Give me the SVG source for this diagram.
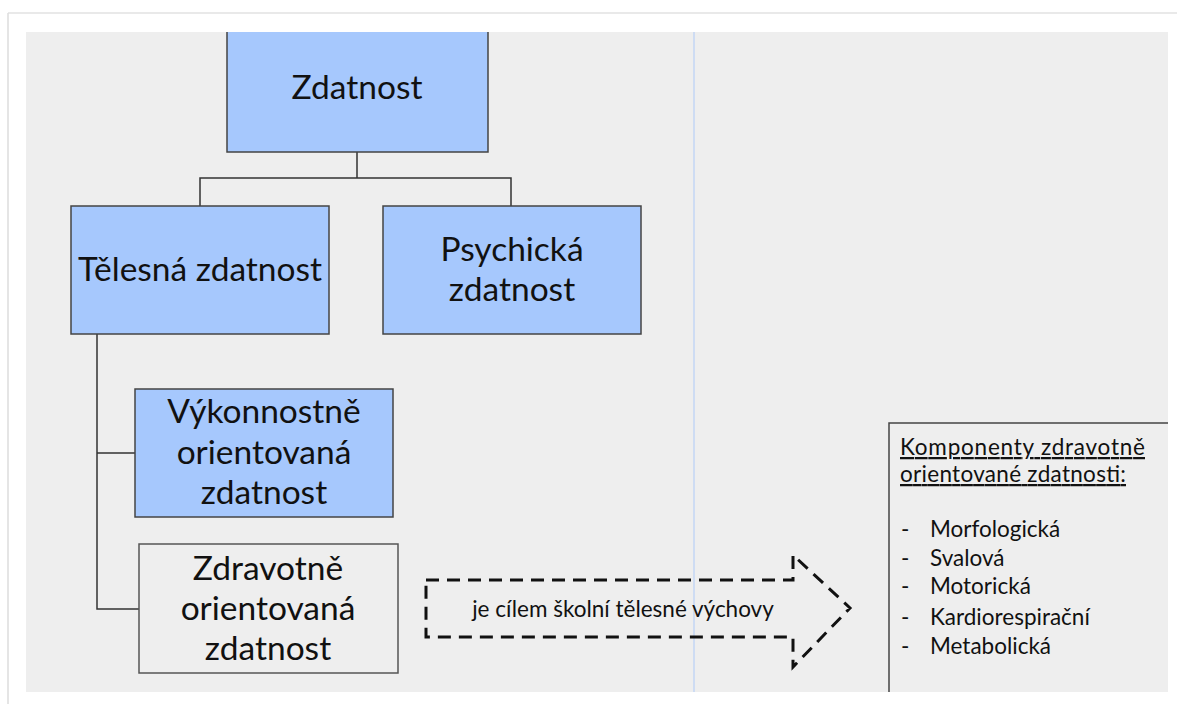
<svg xmlns="http://www.w3.org/2000/svg" width="1177" height="704" viewBox="0 0 1177 704">
<style>
.t{font-family:Lato,"Open Sans","Liberation Sans",sans-serif;fill:#111;text-anchor:middle}
.big{font-size:33.5px}
.box{fill:#a6c8fd;stroke:#444;stroke-width:1.5}
.wbox{fill:#eeeeee;stroke:#555;stroke-width:1.5}
.con{fill:none;stroke:#333;stroke-width:1.5}
.sm{font-family:Lato,"Open Sans","Liberation Sans",sans-serif;fill:#111;font-size:22.5px}
</style>
<rect x="0" y="0" width="1177" height="704" fill="#ffffff"/>
<line x1="8" y1="13" x2="1177" y2="13" stroke="#e2e2e2" stroke-width="1.5"/>
<line x1="8" y1="13" x2="8" y2="704" stroke="#dcdcdc" stroke-width="1.5"/>
<rect x="26" y="32" width="1142" height="660" fill="#eeeeee"/>
<line x1="694" y1="32" x2="694" y2="692" stroke="#c3d6f5" stroke-width="1.5"/>
<g id="connectors">
<path class="con" d="M357 152V178M200 206V178H511V206"/>
<path class="con" d="M97 334V609H139M97 453H135"/>
</g>
<g id="zdatnost">
<rect x="227" y="32" width="261" height="120" fill="#a6c8fd"/>
<path d="M227 32V152H488V32" fill="none" stroke="#444" stroke-width="1.5"/>
<text class="t big" x="357" y="99">Zdatnost</text>
</g>
<g id="telesna">
<rect class="box" x="71" y="206" width="258" height="128"/>
<text class="t big" x="200" y="281">Tělesná zdatnost</text>
</g>
<g id="psychicka">
<rect class="box" x="383" y="206" width="258" height="128"/>
<text class="t big" x="512" y="261">Psychická</text>
<text class="t big" x="512" y="301">zdatnost</text>
</g>
<g id="vykonnostne">
<rect class="box" x="135" y="389" width="258" height="128"/>
<text class="t big" x="264" y="423">Výkonnostně</text>
<text class="t big" x="264" y="464">orientovaná</text>
<text class="t big" x="264" y="504">zdatnost</text>
</g>
<g id="zdravotne">
<rect class="wbox" x="139" y="544" width="259" height="129"/>
<text class="t big" x="268" y="580">Zdravotně</text>
<text class="t big" x="268" y="620">orientovaná</text>
<text class="t big" x="268" y="660">zdatnost</text>
</g>
<g id="arrow">
<path d="M426 580H793V555L850 608L793 667V637H426Z" fill="none" stroke="#111" stroke-width="3" stroke-dasharray="13 8"/>
<text class="t" x="623" y="617" font-size="22.5">je cílem školní tělesné výchovy</text>
</g>
<g id="komponenty">
<path d="M889 692V423H1168" fill="none" stroke="#444" stroke-width="1.5"/>
<text class="sm" x="900" y="455" text-decoration="underline" textLength="245">Komponenty zdravotně</text>
<text class="sm" x="900" y="482" text-decoration="underline" textLength="226">orientované zdatnosti:</text>
<g class="sm">
<text x="901" y="537">-</text><text x="930" y="537">Morfologická</text>
<text x="901" y="566">-</text><text x="930" y="566">Svalová</text>
<text x="901" y="594">-</text><text x="930" y="594">Motorická</text>
<text x="901" y="625">-</text><text x="930" y="625">Kardiorespirační</text>
<text x="901" y="654">-</text><text x="930" y="654">Metabolická</text>
</g>
</g>
</svg>
